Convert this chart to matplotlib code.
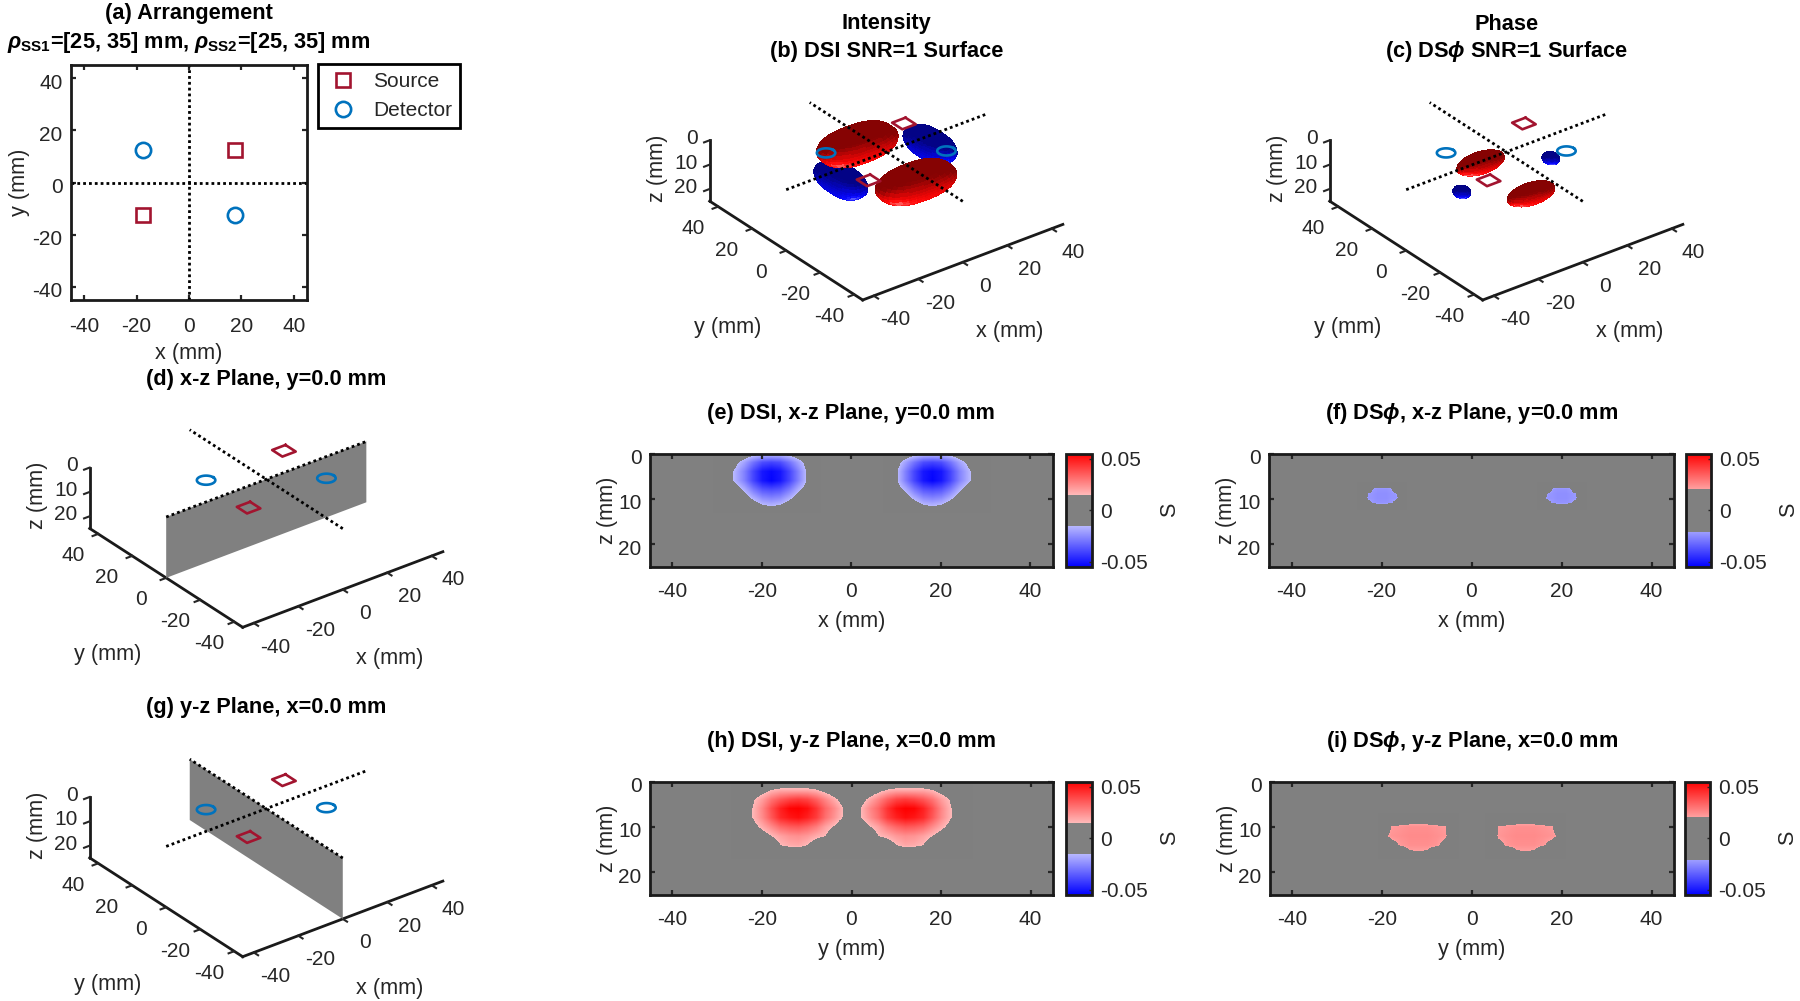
import numpy as np
import matplotlib
matplotlib.use("Agg")
import matplotlib.pyplot as plt
from matplotlib.colors import LinearSegmentedColormap
from matplotlib.transforms import Affine2D
from mpl_toolkits.mplot3d import proj3d

plt.rcParams.update({
    "font.family": ["Liberation Sans", "DejaVu Sans"],
    "font.size": 15,
    "axes.unicode_minus": False,
    "mathtext.fontset": "custom",
    "mathtext.rm": "Liberation Sans:bold",
    "mathtext.bf": "Liberation Sans:bold",
    "mathtext.it": "Liberation Sans:italic:bold",
    "mathtext.fallback": "stixsans",
})

# ---------------- data ----------------
source_x = [17.5, -17.5]
source_y = [12.5, -12.5]
detector_x = [-17.5, 17.5]
detector_y = [12.5, -12.5]
ticks_xy = [-40, -20, 0, 20, 40]
ticks_z = [0, 10, 20]
cbar_ticks = [-0.05, 0, 0.05]
clim = 0.055

thr_dsi = 0.015
thr_dsphi = 0.021

# tables in 0.001 S; rows are z, columns are the lateral coordinate
e_lat = [-30, -28, -26, -24, -22, -20, -18, -16, -14, -12, -10, -8]
e_z = [0, 2, 4, 6, 8, 10, 12]
e_tab = [
    [0, 0, 0, -5, -8, -10, -10, -10, -8, -5, 0, 0],
    [0, -5, -12, -20, -30, -38, -40, -38, -30, -20, -10, 0],
    [0, -8, -17, -27, -40, -50, -53, -50, -40, -27, -13, -5],
    [0, -8, -17, -27, -40, -50, -54, -50, -40, -27, -13, -5],
    [0, 0, -9, -17, -28, -36, -38, -36, -28, -17, -9, 0],
    [0, 0, 0, -8, -16, -23, -25, -23, -16, -8, 0, 0],
    [0, 0, 0, 0, -5, -10, -12, -10, -5, 0, 0, 0],
]
f_lat = [-25, -24, -23, -22, -21, -20, -19, -18, -17, -16, -15]
f_z = [7, 8, 9, 10, 11, 12]
f_tab = [
    [0, 0, 0, -10, -15, -15, -15, -10, 0, 0, 0],
    [0, 0, -10, -21.5, -23, -23, -23, -22, -12, 0, 0],
    [0, -14, -22, -23, -24, -24, -24, -23, -22.5, -15, -5],
    [0, -15, -22.5, -23, -24, -24, -24, -23, -23, -19, -8],
    [0, 0, -17, -22, -23, -23, -23, -22, -18, 0, 0],
    [0, 0, 0, -5, -8, -8, -8, -5, 0, 0, 0],
]
h_lat = [-26, -24, -22, -20, -18, -16, -14, -12, -10, -8, -6, -4, -2, 0]
h_z = [0, 2, 4, 6, 8, 10, 12, 14, 16]
h_tab = [
    [0, 0, 0, 0, 0, 2, 3, 3, 3, 2, 0, 0, 0, 0],
    [0, 0, 5, 10, 15.5, 18, 18, 18, 18, 16, 11, 5, 2, 0],
    [0, 5, 14, 21, 30, 36, 40, 42, 40, 34, 26, 18, 9, 0],
    [0, 8, 16, 26, 38, 48, 54, 55, 52, 44, 33, 25, 15, 4],
    [0, 8, 16, 25, 36, 46, 50, 52, 48, 42, 31, 23, 14, 3],
    [0, 2, 11, 18, 25, 32, 35, 36, 33, 28, 20, 14, 4, 0],
    [0, 0, 3, 9, 15, 20, 23, 24, 22, 18, 15, 6, 0, 0],
    [0, 0, 0, 2, 6, 15, 18, 19, 15, 8, 3, 0, 0, 0],
    [0, 0, 0, 0, 0, 0, 0, 0, 0, 0, 0, 0, 0, 0],
]
i_lat = [-20, -18, -16, -14, -12, -10, -8, -6, -4]
i_z = [8, 10, 12, 14, 16]
i_tab = [
    [0, 5, 10, 12, 12, 12, 10, 5, 0],
    [8, 21.5, 23, 24, 24, 24, 23, 21.5, 5],
    [19, 23, 24, 25, 25, 25, 24, 22.5, 10],
    [3, 17, 22, 24, 24, 24, 23, 17, 3],
    [0, 0, 6, 18.5, 19, 18.5, 6, 0, 0],
]

# SNR=1 lobes: centre x, y, z, half-length x, y, z, shallowest z, plan-view squareness
b_red = [(2.7, -14, 7, 16.3, 8.7, 6.5, 1.0, 0.8), (0, 17, 4.5, 16.3, 8.7, 6.5, 0.5, 0.8)]
b_blue = [(-20.4, 0, 4.5, 6.3, 12.5, 5.5, 0.5, 0.8), (19.7, 0, 3.6, 6.3, 12.5, 5.5, 0.5, 0.8)]
c_red = [(2, -12, 12.5, 10, 5, 3.5, 10, 1.0), (0.7, 16, 12, 10, 5, 3.5, 9.5, 1.0)]
c_blue = [(-20, 0, 9.5, 3, 3.5, 2, 7.5, 1.0), (20, 0, 9.5, 3, 3.5, 2, 7.5, 1.0)]

# ---------------- style ----------------
FW, FH = 1800, 1001
DARK = (0.15, 0.15, 0.15)
SRC = "#A2142F"
DET = "#0072BD"
GRAY = (0.5, 0.5, 0.5)
FS = 15
FT = 15.7
FL = 15.6
DOT = (0, (1, 1.1))
DOTLW = 2.0

fig = plt.figure(figsize=(18, 10.01), dpi=100)


def px_rect(l, t, r, b):
    return [l / FW, 1 - b / FH, (r - l) / FW, (b - t) / FH]


def cmap_for(thr):
    p = (clim - thr) / (2 * clim)
    w = 1 - thr / clim
    return LinearSegmentedColormap.from_list(
        "c",
        [(0, (0, 0, 1)), (p, (w, w, 1)), (p, GRAY), (1 - p, GRAY),
         (1 - p, (1, w, w)), (1, (1, 0, 0))],
        N=1024,
    )


def shift_ylabels(ax, dy):
    for lab in ax.get_yticklabels():
        lab.set_transform(lab.get_transform() + Affine2D().translate(0, dy))


def style2d(ax):
    for s in ax.spines.values():
        s.set_linewidth(2.0)
        s.set_color((0.1, 0.1, 0.1))
    ax.tick_params(direction="in", length=3.5, width=1.6, top=True, right=True,
                   labelsize=FS, colors=DARK)
    ax.tick_params(axis="x", pad=11)
    ax.tick_params(axis="y", pad=6)
    ax.xaxis.label.set_color(DARK)
    ax.yaxis.label.set_color(DARK)
    shift_ylabels(ax, -3)


def slice_panel(rect, crect, title, xlabel, thr, blobs):
    ax = fig.add_axes(px_rect(*rect))
    ax.set_facecolor(GRAY)
    cm = cmap_for(thr)
    im = None
    for lat, zz, tab in blobs:
        lat = np.asarray(lat, float)
        zz = np.asarray(zz, float)
        dl, dz = lat[1] - lat[0], zz[1] - zz[0]
        im = ax.imshow(np.asarray(tab, float) / 1000, origin="upper", aspect="auto",
                       extent=[lat[0] - dl / 2, lat[-1] + dl / 2, zz[-1] + dz / 2, zz[0] - dz / 2],
                       cmap=cm, vmin=-clim, vmax=clim,
                       interpolation="bilinear", interpolation_stage="data")
    ax.set_xlim(-45, 45)
    ax.set_ylim(25, 0)
    ax.set_xticks(ticks_xy)
    ax.set_yticks(ticks_z)
    ax.set_xlabel(xlabel, fontsize=FL, labelpad=7)
    ax.set_ylabel("z (mm)", fontsize=FL, labelpad=0)
    ax.set_title(title, fontsize=FT, fontweight="bold", pad=25)
    style2d(ax)
    cax = fig.add_axes(px_rect(*crect))
    cb = fig.colorbar(im, cax=cax, ticks=cbar_ticks)
    cb.ax.set_yticklabels(["-0.05", "0", "0.05"])
    cb.ax.tick_params(direction="in", length=2, width=1, labelsize=FS, colors=DARK, pad=6)
    cb.outline.set_linewidth(2.0)
    cb.outline.set_edgecolor((0.1, 0.1, 0.1))
    cb.set_label("S", fontsize=FL, color=DARK, labelpad=8)
    return ax


def lobe(ax, params, base, z):
    cx, cy, cz, a, b, c, ztop, e = params
    u = np.linspace(0, 2 * np.pi, 61)
    v = np.linspace(0, np.pi, 41)
    U, V = np.meshgrid(u, v)
    cu, su = np.cos(U), np.sin(U)
    X = cx + a * np.sign(cu) * np.abs(cu) ** e * np.sin(V)
    Y = cy + b * np.sign(su) * np.abs(su) ** e * np.sin(V)
    Z = cz + c * np.cos(V)
    nx = np.sign(cu) * np.abs(cu) ** (2 - e) * np.sin(V) / a
    ny = np.sign(su) * np.abs(su) ** (2 - e) * np.sin(V) / b
    nz = np.cos(V) / c
    flat = Z < ztop
    nx[flat], ny[flat], nz[flat] = 0, 0, -1
    Z = np.maximum(Z, ztop)
    nrm = np.sqrt(nx ** 2 + ny ** 2 + nz ** 2) + 1e-9
    L = np.array([-0.5, -0.65, 0.57])
    d = np.clip((nx * L[0] + ny * L[1] + nz * L[2]) / nrm, 0, 1)
    d = 0.25 * (d[:-1, :-1] + d[1:, :-1] + d[:-1, 1:] + d[1:, 1:])
    col = np.zeros(d.shape + (4,))
    for k in range(3):
        col[..., k] = np.clip(base[k] * (0.62 + 0.6 * d) + 0.45 * d ** 30, 0, 1)
    col[..., 3] = 1
    ax.plot_surface(X, Y, Z, facecolors=col, shade=False, rcount=40, ccount=60,
                    linewidth=0, antialiased=False, zorder=z)


def overlay(ax):
    ax.plot([-45, 45], [0, 0], [0, 0], color="k", lw=DOTLW, ls=DOT, zorder=20)
    ax.plot([0, 0], [-45, 45], [0, 0], color="k", lw=DOTLW, ls=DOT, zorder=20)
    th = np.linspace(0, 2 * np.pi, 49)
    for x, y in zip(detector_x, detector_y):
        ax.plot(x + 3.3 * np.cos(th), y + 3.3 * np.sin(th), 0 * th, color=DET, lw=1.9, zorder=21)
    sq = 3.0
    for x, y in zip(source_x, source_y):
        ax.plot(x + sq * np.array([1, -1, -1, 1, 1]), y + sq * np.array([1, 1, -1, -1, 1]),
                [0] * 5, color=SRC, lw=1.9, zorder=21)


def nudge_ticks(ax, axis, dx, dy, ha=None):
    """Shift an mplot3d axis' tick labels by a pixel offset on every redraw."""
    orig = axis.get_major_ticks

    def patched(numticks=None):
        ticks = orig(numticks)
        for t in ticks:
            t.label1.set_transform(ax.transData + Affine2D().translate(dx, dy))
            if ha:
                t.label1.set_ha(ha)
        return ticks
    axis.get_major_ticks = patched


def nudge_label(ax, axis, dx, dy):
    """Shift an mplot3d axis label by a pixel offset at draw time."""
    lab = axis.label
    orig = lab.draw

    def draw(renderer):
        lab.set_transform(ax.transData + Affine2D().translate(dx, dy))
        orig(renderer)
    lab.draw = draw


def panel3d(corner, title_lines, title_x, title_y):
    ax = fig.add_axes(px_rect(corner[0] - 300, corner[1] - 420, corner[0] + 300, corner[1] + 180),
                      projection="3d", proj_type="ortho")
    ax.computed_zorder = False
    ax.view_init(elev=29.6, azim=-127.4)
    ax.set_xlim(-45, 45)
    ax.set_ylim(-45, 45)
    ax.set_zlim(25, 0)
    ax.set_box_aspect((90, 90, 25))
    ax.set_facecolor("none")
    ax.grid(False)
    ax.set_xticks(ticks_xy)
    ax.set_yticks(ticks_xy)
    ax.set_zticks(ticks_z)
    ax.set_xlabel("x (mm)", fontsize=FL, color=DARK, labelpad=14)
    ax.set_ylabel("y (mm)", fontsize=FL, color=DARK, labelpad=14)
    ax.set_zlabel("z (mm)", fontsize=FL, color=DARK, labelpad=10, rotation=90)
    for a in (ax.xaxis, ax.yaxis, ax.zaxis):
        a.set_pane_color((1, 1, 1, 0))
        a.pane.set_edgecolor((1, 1, 1, 0))
        a.line.set_linewidth(2.0)
        a.line.set_color((0.1, 0.1, 0.1))
        a.set_rotate_label(False)
        a._axinfo["tick"]["inward_factor"] = 0.35
        a._axinfo["tick"]["outward_factor"] = 0.0
        a._axinfo["tick"]["linewidth"] = {True: 1.5, False: 1.0}
    ax.tick_params(labelsize=FS, colors=DARK, pad=4)
    nudge_label(ax, ax.xaxis, 6, -27)
    nudge_label(ax, ax.yaxis, -6, -41)
    nudge_label(ax, ax.zaxis, 31, -3)
    nudge_ticks(ax, ax.xaxis, 8, 0)
    nudge_ticks(ax, ax.yaxis, -7, 0)
    nudge_ticks(ax, ax.zaxis, 20, 9, ha="right")

    # fit the projected box onto the reference's pixel scale
    def disp(x, y, z):
        ax.apply_aspect()
        px, py, _ = proj3d.proj_transform(x, y, z, ax.get_proj())
        return ax.transData.transform((px, py))
    for _ in range(3):
        d0, d1 = disp(-45, -45, 25), disp(45, -45, 25)
        ratio = np.hypot(200, 76) / np.hypot(*(d1 - d0))
        p = ax.get_position(original=True)
        cx0, cy0 = p.x0 + p.width / 2, p.y0 + p.height / 2
        ax.set_position([cx0 - p.width * ratio / 2, cy0 - p.height * ratio / 2,
                         p.width * ratio, p.height * ratio])
        d0 = disp(-45, -45, 25)
        p = ax.get_position(original=True)
        ax.set_position([p.x0 + (corner[0] - d0[0]) / FW, p.y0 + (FH - corner[1] - d0[1]) / FH,
                         p.width, p.height])
    for line, y in zip(title_lines, title_y):
        fig.text(title_x / FW, 1 - y / FH, line, fontsize=FT, fontweight="bold",
                 ha="center", va="center")
    return ax


# (a)
ax_a = fig.add_axes(px_rect(71, 65, 307, 300))
ax_a.plot([-45, 45], [0, 0], color="k", lw=DOTLW, ls=DOT)
ax_a.plot([0, 0], [-45, 45], color="k", lw=DOTLW, ls=DOT)
ax_a.plot(source_x, source_y, ls="none", marker="s", ms=9.5, mfc="none", mec=SRC, mew=1.9, label="Source")
ax_a.plot(detector_x, detector_y, ls="none", marker="o", ms=11, mfc="none", mec=DET, mew=1.9, label="Detector")
ax_a.set_xlim(-45, 45)
ax_a.set_ylim(-45, 45)
ax_a.set_xticks(ticks_xy)
ax_a.set_yticks(ticks_xy)
ax_a.set_xlabel("x (mm)", fontsize=FL, labelpad=5)
ax_a.set_ylabel("y (mm)", fontsize=FL, labelpad=2)
ax_a.set_title("(a) Arrangement\n" + r"$\rho_{\mathbf{SS1}}$=[25, 35] mm, $\rho_{\mathbf{SS2}}$=[25, 35] mm",
               fontsize=FT, fontweight="bold", pad=12.5, linespacing=1.3)
style2d(ax_a)
ax_a.tick_params(axis="x", pad=12)
leg = ax_a.legend(loc="upper left", bbox_to_anchor=(318 / FW, 1 - 64 / FH),
                  bbox_transform=fig.transFigure, fontsize=FS, frameon=True, fancybox=False,
                  framealpha=1, edgecolor="k", borderaxespad=0, borderpad=0.38,
                  labelspacing=0.5, handlelength=1.65, handletextpad=0.6)
leg.get_frame().set_linewidth(2.0)
for t in leg.get_texts():
    t.set_color(DARK)

# (b)
ax_b = panel3d((862.7, 300), ["Intensity", "(b) DSI SNR=1 Surface"], 886.7, (24, 52))
for k, p in zip((2, 3), [b_blue[1], b_blue[0]]):
    lobe(ax_b, p, (0.02, 0.02, 0.85), k)
lobe(ax_b, b_red[1], (0.85, 0.02, 0.02), 4)
lobe(ax_b, b_red[0], (0.85, 0.02, 0.02), 5)
overlay(ax_b)

# (c)
ax_c = panel3d((1482.7, 300), ["Phase", r"(c) DS$\phi$ SNR=1 Surface"], 1506.7, (24, 52))
for k, p in zip((2, 3), c_blue):
    lobe(ax_c, p, (0.02, 0.02, 0.85), k)
lobe(ax_c, c_red[1], (0.85, 0.02, 0.02), 4)
lobe(ax_c, c_red[0], (0.85, 0.02, 0.02), 5)
overlay(ax_c)

# (d)
ax_d = panel3d((242.7, 627.3), ["(d) x-z Plane, y=0.0 mm"], 266, (380,))
PX, PZ = np.meshgrid([-45, 45], [0, 25])
ax_d.plot_surface(PX, 0 * PX, PZ, color=GRAY, shade=False, linewidth=0, zorder=1)
overlay(ax_d)

# (g)
ax_g = panel3d((242.7, 956.7), ["(g) y-z Plane, x=0.0 mm"], 266, (707,))
ax_g.plot_surface(0 * PX, PX, PZ, color=GRAY, shade=False, linewidth=0, zorder=1)
overlay(ax_g)

# slices
mirror = lambda lat, tab: ([-v for v in lat[::-1]], [r[::-1] for r in tab])
el2, et2 = mirror(e_lat, e_tab)
fl2, ft2 = mirror(f_lat, f_tab)
hl2, ht2 = mirror(h_lat, h_tab)
il2, it2 = mirror(i_lat, i_tab)
slice_panel((650, 453.5, 1052.5, 567), (1066, 453.5, 1091.5, 567),
            "(e) DSI, x-z Plane, y=0.0 mm", "x (mm)", thr_dsi,
            [(e_lat, e_z, e_tab), (el2, e_z, et2)])
slice_panel((1269, 453.5, 1674, 567), (1685.5, 453.5, 1710.5, 567),
            r"(f) DS$\phi$, x-z Plane, y=0.0 mm", "x (mm)", thr_dsphi,
            [(f_lat, f_z, f_tab), (fl2, f_z, ft2)])
slice_panel((650, 781.5, 1053, 895), (1066, 781.5, 1092, 895),
            "(h) DSI, y-z Plane, x=0.0 mm", "y (mm)", thr_dsi,
            [(h_lat, h_z, h_tab), (hl2, h_z, ht2)])
slice_panel((1270, 781.5, 1674, 895), (1685, 781.5, 1710, 895),
            r"(i) DS$\phi$, y-z Plane, x=0.0 mm", "y (mm)", thr_dsphi,
            [(i_lat, i_z, i_tab), (il2, i_z, it2)])

fig.savefig("out.png", dpi=100)
